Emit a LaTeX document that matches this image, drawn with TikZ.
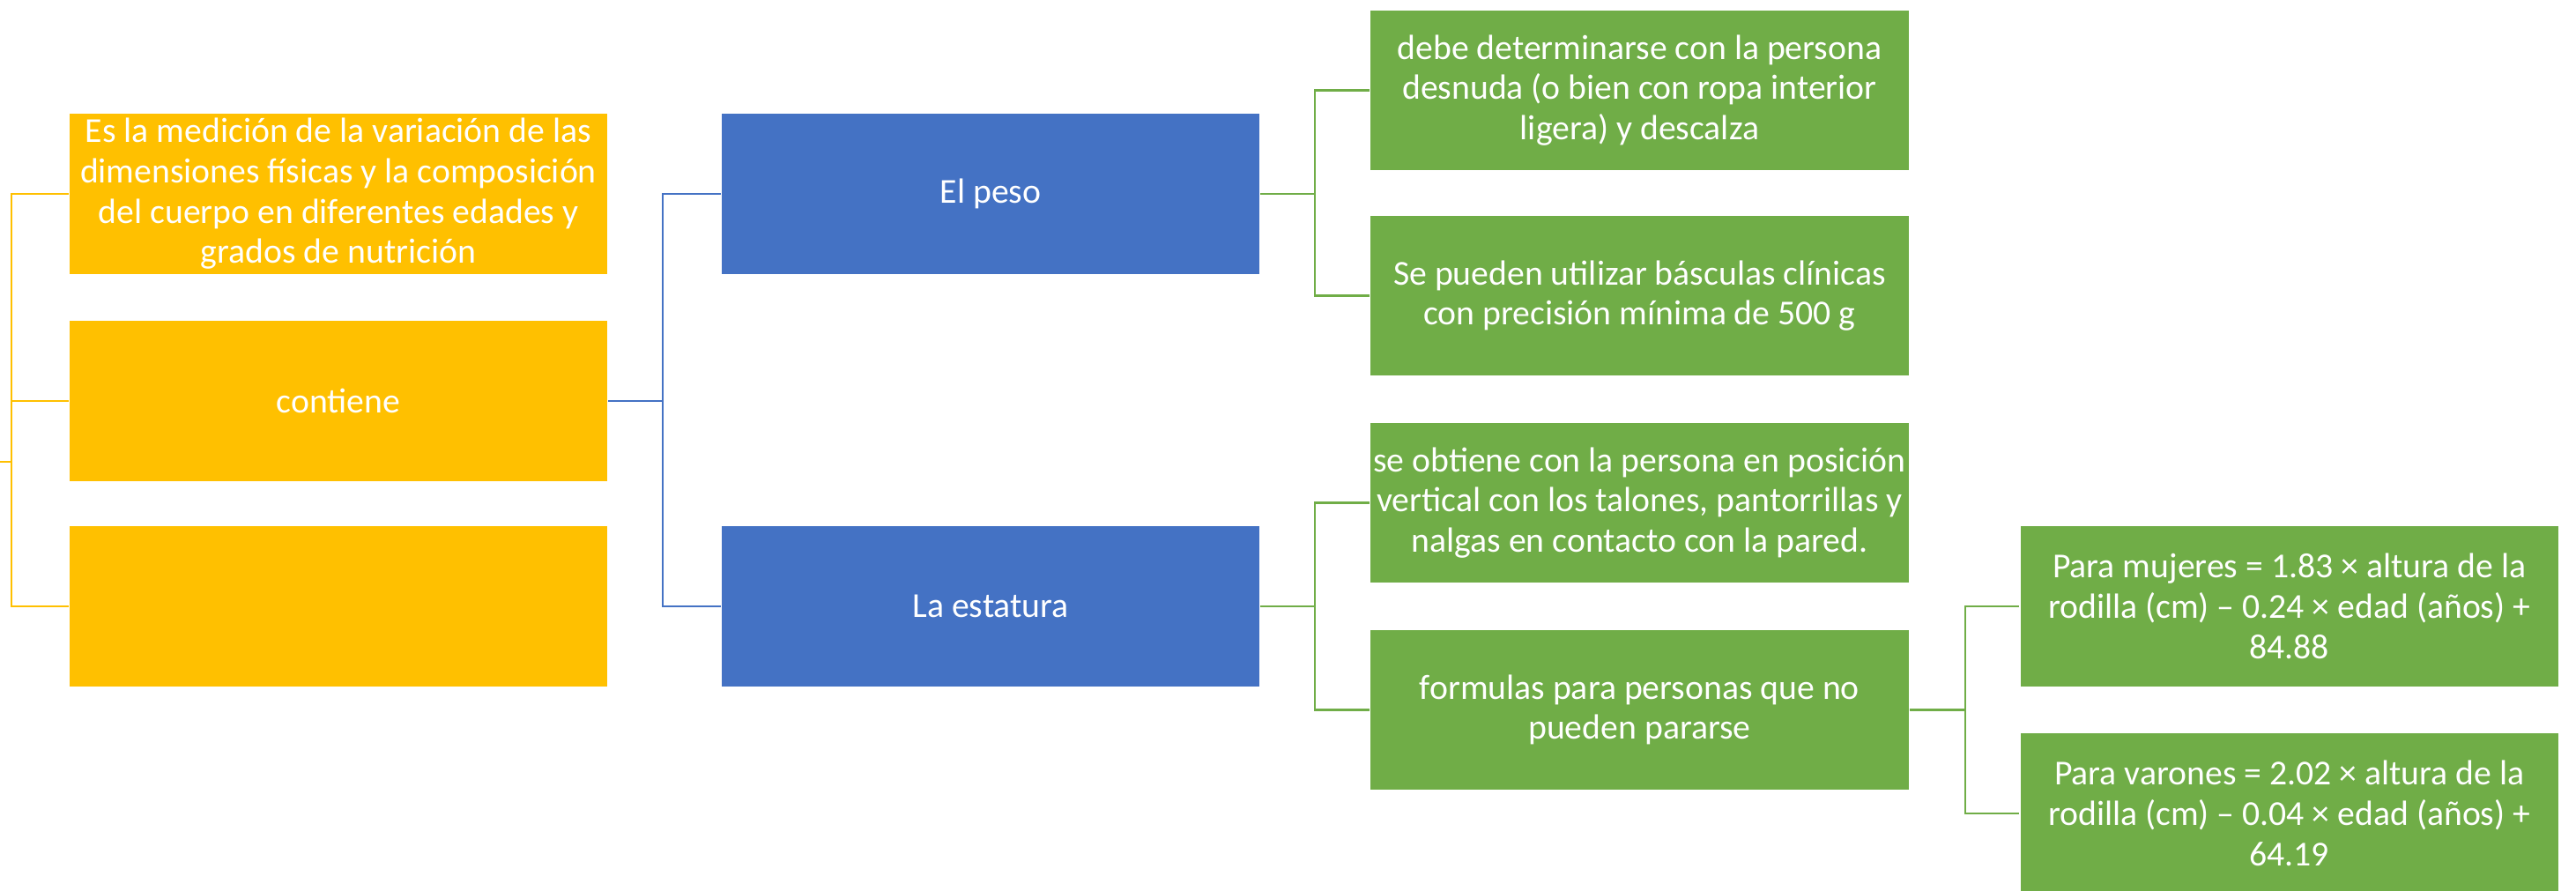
\documentclass[tikz,border=0pt]{standalone}
\usepackage{fontspec}
\setmainfont{Carlito}
\definecolor{cyellow}{HTML}{FFC000}
\definecolor{cblue}{HTML}{4472C4}
\definecolor{cgreen}{HTML}{70AD47}
\begin{document}
\begin{tikzpicture}[x=1pt,y=-1pt,
  box/.style={minimum width=328pt,minimum height=98pt,inner sep=0pt,align=center,
    text=white,font=\fontsize{21.3}{24.5}\selectfont,draw=white,line width=0.6pt},
  ybox/.style={box,fill=cyellow},
  bbox/.style={box,fill=cblue},
  gbox/.style={box,fill=cgreen},
  link/.style={line width=1.3pt}]
\useasboundingbox (0,0) rectangle (1568,542);
% column 1
\node[ybox] (y1) at (206,118) {Es la medición de la variación de las\\dimensiones físicas y la composición\\del cuerpo en diferentes edades y\\grados de nutrición};
\node[ybox] (y2) at (206,244) {contiene};
\node[ybox] (y3) at (206,369) {};
% column 2
\node[bbox] (b1) at (603,118) {El peso};
\node[bbox] (b2) at (603,369) {La estatura};
% column 3
\node[gbox] (g1) at (998,55) {debe determinarse con la persona\\desnuda (o bien con ropa interior\\ligera) y descalza};
\node[gbox] (g2) at (998,180) {Se pueden utilizar básculas clínicas\\con precisión mínima de 500 g};
\node[gbox] (g3) at (998,306) {se obtiene con la persona en posición\\vertical con los talones, pantorrillas y\\nalgas en contacto con la pared.};
\node[gbox] (g4) at (998,432) {formulas para personas que no\\pueden pararse};
% column 4
\node[gbox] (g5) at (1393.5,369) {Para mujeres = 1.83 × altura de la\\rodilla (cm) – 0.24 × edad (años) +\\84.88};
\node[gbox] (g6) at (1393.5,495) {Para varones = 2.02 × altura de la\\rodilla (cm) – 0.04 × edad (años) +\\64.19};
% connectors
\coordinate (lroot) at (0,281);
\coordinate (lbus) at (7,281);
\draw[link,cyellow] (lroot) -- (lbus) |- (y1.west);
\draw[link,cyellow] (lbus) |- (y2.west);
\draw[link,cyellow] (lbus) |- (y3.west);
\draw[link,cblue] (y2.east) -- ++(33,0) coordinate (bbus) |- (b1.west);
\draw[link,cblue] (bbus) |- (b2.west);
\draw[link,cgreen] (b1.east) -- ++(33,0) coordinate (gbus1) |- (g1.west);
\draw[link,cgreen] (gbus1) |- (g2.west);
\draw[link,cgreen] (b2.east) -- ++(33,0) coordinate (gbus2) |- (g3.west);
\draw[link,cgreen] (gbus2) |- (g4.west);
\draw[link,cgreen] (g4.east) -- ++(34,0) coordinate (gbus3) |- (g5.west);
\draw[link,cgreen] (gbus3) |- (g6.west);
\end{tikzpicture}
\end{document}
